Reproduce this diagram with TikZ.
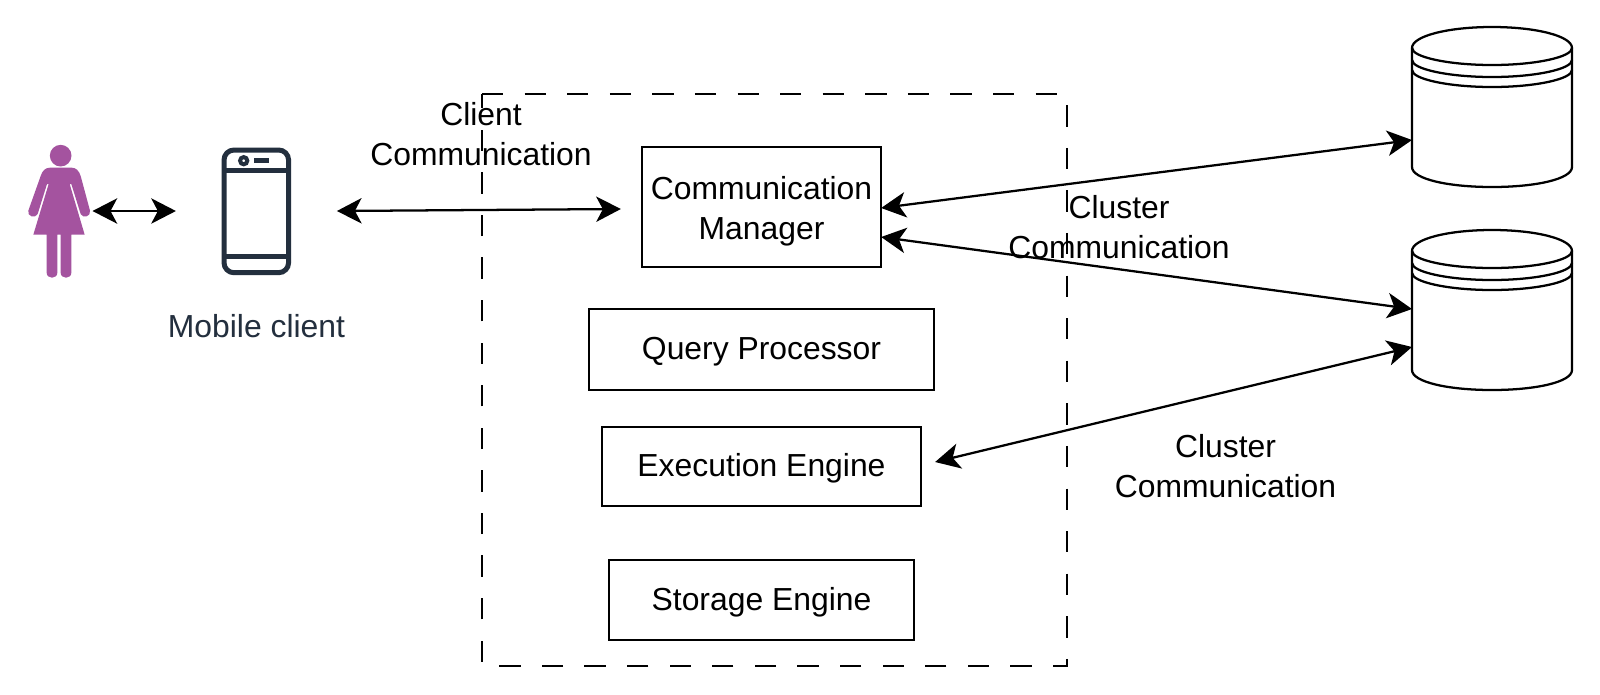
\documentclass[tikz,border=0pt]{standalone}
\usepackage{fontspec}
\setmainfont{Liberation Sans}
\usetikzlibrary{arrows.meta,calc}
\definecolor{inkblue}{HTML}{232F3E}
\definecolor{figure}{HTML}{A4539F}
\newcommand{\px}{0.75pt}
\tikzset{
  every node/.style={font=\fontsize{23.9pt}{30pt}\selectfont, align=center},
  box/.style={draw=black, line width=1.7pt, inner sep=0pt},
  oneline/.style={text height=20pt, text depth=5pt},
  twolines/.style={text height=53pt, text depth=5pt},
  twoway/.style={line width=1.7pt, {Stealth[length=18.5pt,width=19pt,inset=5pt]}-{Stealth[length=18.5pt,width=19pt,inset=5pt]}},
  slot/.style={inner sep=0pt, outer sep=0pt, minimum width=#1},
  drum/.style={line width=1.7pt, fill=white},
}
% Storage drum: body with three rim lines, centred on a named anchor node
\newcommand{\storagedrum}[2]{%
  \node[slot=160*\px, minimum height=160*\px] (#1) at (1492,#2) {};
  \begin{scope}[shift={(#1.center)}]
    \draw[drum] (-80,-59) .. controls (-80,-71) and (-44,-80) .. (0,-80)
      .. controls (44,-80) and (80,-71) .. (80,-59) -- (80,60)
      .. controls (80,72) and (44,80) .. (0,80)
      .. controls (-44,80) and (-80,72) .. (-80,60) -- cycle;
    \foreach \d in {0,12,22}
      \draw[line width=1.7pt] (-80,-59+\d) .. controls (-80,-50+\d) and (-44,-42+\d) .. (0,-42+\d)
        .. controls (44,-42+\d) and (80,-50+\d) .. (80,-59+\d);
  \end{scope}}
\begin{document}
\begin{tikzpicture}[x=\px, y=-\px]
\useasboundingbox (0,0) rectangle (1600,694);
\fill[white] (0,0) rectangle (1600,694);

% Server boundary
\draw[line width=1.7pt, dash pattern=on 15.97pt off 15.97pt] (482,94) -- (1067,94) -- (1067,666) -- (482,666) -- cycle;

% Server components
\node[box, twolines, minimum width=239*\px, minimum height=120*\px] (cm) at (761.5,207) {Communication\\Manager};
\node[box, oneline, minimum width=345*\px, minimum height=81*\px] (qp) at (761.5,349.5) {Query Processor};
\node[box, oneline, minimum width=319*\px, minimum height=79*\px] (ee) at (761.5,466.5) {Execution Engine};
\node[box, oneline, minimum width=305*\px, minimum height=80*\px] (se) at (761.5,600) {Storage Engine};

% Person figure
\node[slot=64*\px, minimum height=132*\px] (person) at (60.5,211) {};
\begin{scope}[shift={(0,120)}, x=0.25pt, y=-0.25pt]
  \fill[figure] (182,107) circle (32.5);
  \fill[figure] (150,143) -- (215,143) .. controls (228,143) and (237,152) .. (242,168)
    -- (270,272) .. controls (274,290) and (248,296) .. (242,282)
    -- (214,192) -- (209,192) -- (254,344) -- (214,344) -- (214,458)
    .. controls (214,478) and (182,478) .. (182,458) -- (182,344) -- (172,344) -- (172,458)
    .. controls (172,478) and (140,478) .. (140,458) -- (140,344) -- (100,344)
    -- (146,192) -- (141,192) -- (113,282)
    .. controls (107,296) and (80,290) .. (85,272)
    -- (122,168) .. controls (127,152) and (136,143) .. (150,143) -- cycle;
\end{scope}

% Phone icon
\node[slot=161*\px, minimum height=128*\px] (phone) at (256.4,211) {};
\begin{scope}[inkblue]
  \draw[line width=3.75pt, rounded corners=7.5pt] (224,150) rectangle (288.6,272.7);
  \draw[line width=3.75pt] (224,170) -- (288.6,170) (224,256.7) -- (288.6,256.7);
  \draw[line width=3pt] (243.7,160.7) circle (3.6);
  \fill (254,158) rectangle (269,163);
\end{scope}
\node[text=inkblue] (phonelabel) at (256.5,326) {Mobile client};

% Storage drums
\storagedrum{dbone}{107}
\storagedrum{dbtwo}{310}

% Link labels
\node (clientlabel) at (481,134) {Client\\Communication};
\node (clusterone) at (1119,227) {Cluster\\Communication};
\node (clustertwo) at (1225.5,466) {Cluster\\Communication};

% Links
\draw[twoway] (person.east) -- (phone.west);
\draw[twoway] (phone.east) -- ([xshift=-20*\px, yshift=-2*\px]cm.west);
\draw[twoway] ([xshift=-1*\px, yshift=-1*\px]cm.east) -- ([yshift=-33*\px]dbone.west);
\draw[twoway] ([xshift=-1*\px, yshift=-30*\px]cm.east) -- ([yshift=1*\px]dbtwo.west);
\draw[twoway] ([xshift=13*\px, yshift=4.5*\px]ee.east) -- ([yshift=-37*\px]dbtwo.west);
\end{tikzpicture}
\end{document}
